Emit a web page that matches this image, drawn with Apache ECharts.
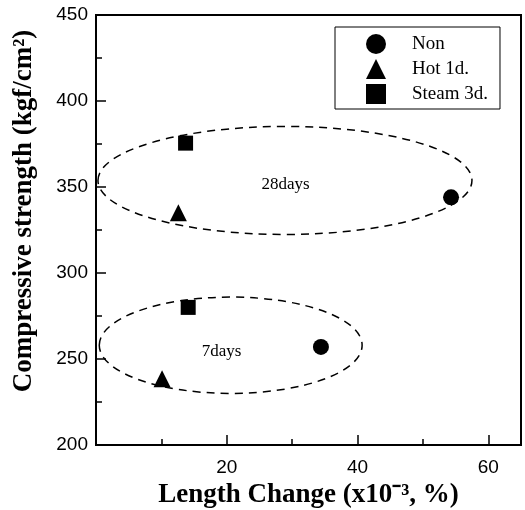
<!DOCTYPE html>
<html>
<head>
<meta charset="utf-8">
<script src="https://cdn.jsdelivr.net/npm/echarts@6/dist/echarts.min.js"></script>
<style>
  html, body { margin: 0; padding: 0; background: #fff; }
  #chart { width: 525px; height: 510px; }
</style>
</head>
<body>
<div id="chart"></div>
<script>
// values: [length change, compressive strength]
var nonData = [[34.4, 257], [54.3, 344]];
var hotData = [[10.1, 238.5], [12.6, 335]];
var steamData = [[14.1, 280], [13.7, 375.5]];

// dashed groupings: [cx, cy, rx, ry] in data units, and their labels
var groupEllipses = [[28.9, 353.8, 28.6, 31.4], [20.6, 258, 20.1, 28]];
var groupLabels = [['28days', 29, 351.5], ['7days', 19.2, 254.5]];

var serif = '"Liberation Serif", "Times New Roman", serif';
var sans = '"Liberation Sans", Arial, sans-serif';

var myChart = echarts.init(document.getElementById('chart'));

var option = {
  animation: false,
  grid: {
    left: 96, right: 4, top: 15, bottom: 65,
    outerBoundsMode: 'none',
    show: true, borderColor: '#000', borderWidth: 2
  },
  legend: {
    orient: 'vertical',
    left: 335, top: 27,
    padding: [7, 12, 5, 31],
    itemWidth: 20, itemHeight: 20, itemGap: 5,
    borderColor: '#000', borderWidth: 1, borderRadius: 0,
    textStyle: { fontFamily: serif, fontSize: 19, color: '#000', padding: [0, 0, 0, 21] },
    data: ['Non', 'Hot 1d.', 'Steam 3d.']
  },
  xAxis: {
    type: 'value', min: 0, max: 65, interval: 20,
    name: 'Length Change (x10\u207B\u00B3, %)',
    nameLocation: 'middle', nameGap: 32,
    nameTextStyle: { fontFamily: serif, fontSize: 27, fontWeight: 'bold', color: '#000' },
    axisLine: { lineStyle: { color: '#000', width: 2 } },
    axisTick: { inside: true, length: 10, lineStyle: { color: '#000', width: 1.5 } },
    minorTick: { show: true, splitNumber: 2, length: 6, lineStyle: { color: '#000', width: 1.5 } },
    splitLine: { show: false },
    axisLabel: {
      margin: 13, fontFamily: sans, fontSize: 19, color: '#000',
      formatter: function (v) { return (v === 20 || v === 40 || v === 60) ? v : ''; }
    }
  },
  yAxis: {
    type: 'value', min: 200, max: 450, interval: 50,
    axisLine: { lineStyle: { color: '#000', width: 2 } },
    axisTick: { inside: true, length: 10, lineStyle: { color: '#000', width: 1.5 } },
    minorTick: { show: true, splitNumber: 2, length: 6, lineStyle: { color: '#000', width: 1.5 } },
    splitLine: { show: false },
    axisLabel: { margin: 8, fontFamily: sans, fontSize: 19, color: '#000' }
  },
  series: [
    { name: 'Non', type: 'scatter', symbol: 'circle', symbolSize: 16,
      itemStyle: { color: '#000', opacity: 1 }, data: nonData },
    { name: 'Hot 1d.', type: 'scatter', symbol: 'triangle', symbolSize: 17,
      itemStyle: { color: '#000', opacity: 1 }, data: hotData },
    { name: 'Steam 3d.', type: 'scatter', symbol: 'rect', symbolSize: 15,
      itemStyle: { color: '#000', opacity: 1 }, data: steamData }
  ]
};
myChart.setOption(option);

// ellipses and labels placed through the axes' own scales
function toPx(x, y) {
  return myChart.convertToPixel({ gridIndex: 0 }, [x, y]);
}
var graphics = [];
groupEllipses.forEach(function (e) {
  var c = toPx(e[0], e[1]);
  var edge = toPx(e[0] + e[2], e[1] + e[3]);
  graphics.push({
    type: 'ellipse', silent: true, z: 1,
    shape: { cx: c[0], cy: c[1], rx: Math.abs(edge[0] - c[0]), ry: Math.abs(edge[1] - c[1]) },
    style: { fill: null, stroke: '#000', lineWidth: 1.5, lineDash: [8, 6] }
  });
});
groupLabels.forEach(function (l) {
  var p = toPx(l[1], l[2]);
  graphics.push({
    type: 'text', silent: true, x: p[0], y: p[1],
    style: { text: l[0], font: '17px ' + serif, fill: '#000', align: 'center', verticalAlign: 'middle' }
  });
});
graphics.push({
  type: 'text', silent: true, x: 24, y: 211, rotation: Math.PI / 2,
  style: {
    text: 'Compressive strength (kgf/cm\u00B2)', font: 'bold 27px ' + serif,
    fill: '#000', align: 'center', verticalAlign: 'middle'
  }
});
myChart.setOption({ graphic: graphics });
</script>
</body>
</html>
